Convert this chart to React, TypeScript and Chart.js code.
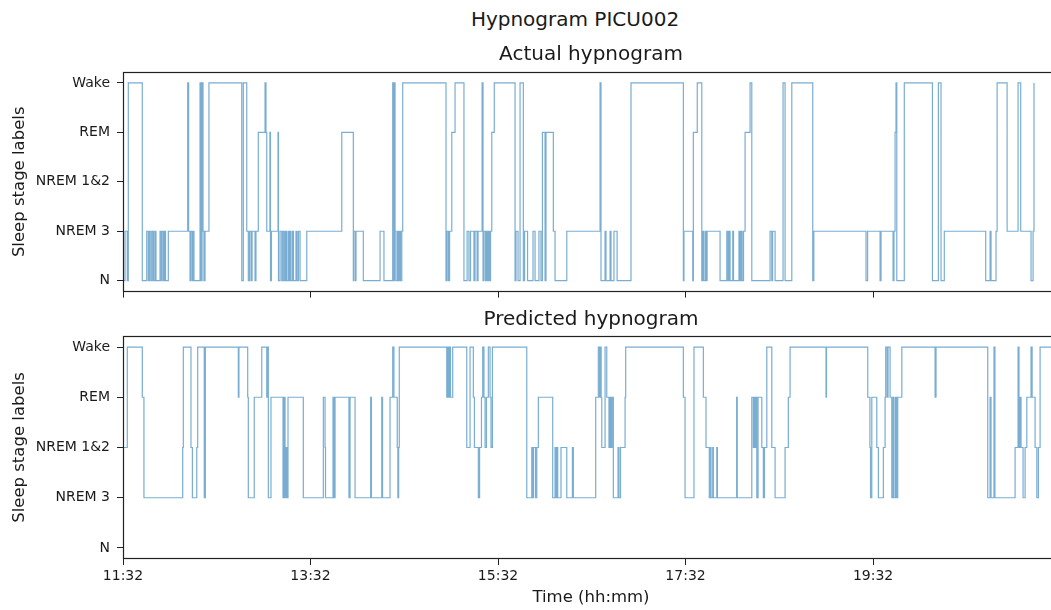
import React, { useEffect, useRef } from "react";
import { Chart, registerables } from "chart.js";

Chart.register(...registerables);

const SUPTITLE = "Hypnogram PICU002";
const PANEL_TITLES = ["Actual hypnogram", "Predicted hypnogram"];
const Y_TITLE = "Sleep stage labels";
const X_TITLE = "Time (hh:mm)";
const STAGE_LABELS = ["N", "NREM 3", "NREM 1&2", "REM", "Wake"];
const TICK_MINUTES = [0, 120, 240, 360, 480];
const TICK_LABELS = ["11:32", "13:32", "15:32", "17:32", "19:32"];
const END_MINUTE = 599;

// change points: minutes after 11:32 and the stage index that starts there
const actualTimes = [0, 1.3, 2.75, 3.4, 12.35, 15.2, 16.2, 17, 17.9, 18.75, 19.6, 20.5, 21.1, 23.7, 24.5, 25, 25.9, 26.6, 27.2, 29, 41.4, 42, 42.9, 43.5, 44.4, 44.8, 45.4, 49.3, 49.9, 50.6, 51.2, 51.8, 52.5, 55, 76, 77, 79.2, 80.2, 81, 82, 82.6, 84.5, 85.1, 86.6, 90.9, 91.5, 92, 94, 94.4, 95, 99.2, 99.5, 100.5, 101.6, 102.4, 103.2, 104, 104.6, 105.6, 106.2, 106.9, 107.5, 108.5, 109.1, 110.7, 111.4, 112.3, 113.3, 117.6, 140, 147.4, 147.8, 148.8, 149.1, 153.8, 164.5, 167, 172.6, 173.1, 173.8, 174.1, 174.7, 175.7, 176.3, 177, 177.6, 178.4, 179, 206.7, 207.4, 208.3, 209, 210.4, 212.5, 218.2, 220.2, 221.4, 222.4, 224.6, 225.3, 226.6, 227.2, 229.8, 230.4, 231, 232, 232.6, 233.3, 233.9, 234.6, 235.2, 236, 237.6, 250.9, 251.5, 252.8, 254.1, 256.2, 257, 258.9, 262.4, 263.7, 266.2, 267.5, 268.4, 270.1, 270.7, 275.4, 276.5, 284, 305.3, 305.9, 308.5, 309.1, 311.7, 312.3, 314.2, 316.2, 325.1, 358.6, 359, 364.6, 365, 367.5, 370.4, 370.9, 371.5, 372.5, 373.1, 373.8, 382.1, 386.4, 387.2, 387.8, 388.5, 390.2, 390.7, 394.2, 394.9, 395.5, 396.2, 397.1, 398.1, 401.3, 402.4, 414.1, 415.2, 415.7, 417.3, 422.4, 423.7, 428, 441.4, 442.1, 475.5, 476.5, 484.5, 485.1, 492.8, 493.4, 494.1, 494.7, 495.2, 500, 518, 521.8, 523.5, 525.6, 552.1, 554.9, 555.5, 558.7, 559.4, 565.8, 572.8, 574.5, 581.1, 582.4, 583, 584.3, 584.8];
const actualStages = [0, 1, 0, 4, 0, 1, 0, 1, 0, 1, 0, 1, 0, 1, 0, 1, 0, 1, 0, 1, 4, 1, 0, 1, 0, 1, 0, 4, 0, 4, 1, 0, 1, 4, 0, 4, 1, 0, 1, 0, 1, 0, 1, 3, 4, 3, 1, 3, 0, 1, 3, 0, 1, 0, 1, 0, 1, 0, 1, 0, 1, 0, 1, 0, 1, 0, 1, 0, 1, 3, 0, 1, 0, 1, 0, 1, 0, 4, 0, 4, 1, 0, 1, 0, 1, 0, 1, 4, 0, 1, 0, 1, 3, 4, 0, 1, 0, 1, 0, 1, 0, 1, 4, 0, 1, 0, 1, 0, 1, 0, 1, 3, 4, 0, 1, 0, 4, 0, 1, 0, 1, 0, 1, 0, 3, 0, 3, 1, 0, 1, 4, 0, 1, 0, 1, 0, 1, 0, 4, 0, 1, 0, 3, 4, 0, 1, 0, 1, 0, 1, 0, 1, 0, 1, 0, 1, 0, 1, 0, 1, 0, 1, 3, 4, 0, 1, 0, 1, 0, 4, 0, 4, 0, 1, 0, 1, 0, 1, 0, 1, 3, 4, 0, 4, 0, 4, 0, 1, 0, 1, 0, 1, 4, 1, 4, 1, 0, 1, 4];

const predictedTimes = [0, 2.75, 12.35, 13.4, 38.2, 38.6, 43.5, 44.4, 47.2, 47.8, 52, 52.7, 73.8, 74.2, 79.8, 80.2, 84, 88.8, 92, 92.4, 93, 94.7, 102.4, 103, 103.7, 104.3, 104.9, 105.6, 115.4, 128.2, 129.3, 129.6, 134.4, 135, 135.7, 144.6, 145.3, 148.5, 158.5, 159, 165.6, 166.1, 170.9, 172.6, 173.4, 175.5, 175.9, 176.4, 176.8, 207.2, 207.7, 208.3, 209, 209.6, 211, 220, 222.1, 224.2, 224.9, 227.4, 228.2, 229.4, 230.2, 231, 231.7, 232.6, 233.8, 234.9, 235.5, 236.4, 258.4, 261.6, 262.1, 262.7, 264, 264.8, 265.8, 275, 276.5, 277.1, 277.8, 278.2, 280.3, 284, 287.6, 288.2, 302.5, 304.2, 305, 305.6, 306, 306.4, 308.5, 309.6, 311, 311.7, 312.3, 313, 313.8, 316.8, 317.4, 318.4, 321.3, 321.7, 358.6, 359.7, 365.4, 371.4, 373.1, 375.2, 376, 376.3, 377.4, 377.8, 380, 380.4, 392.7, 393.1, 402.4, 403.4, 403.9, 404.5, 405.2, 405.6, 406.4, 408.8, 409.8, 410.5, 412, 415.2, 417.3, 423.7, 425.8, 426.9, 449.9, 450.2, 476.6, 478, 478.4, 479.2, 482.4, 483.4, 486.6, 487.7, 488.1, 489, 489.6, 490.9, 492, 492.8, 493.4, 494.4, 495, 495.8, 498.4, 519.7, 520.3, 553.4, 554.9, 555.5, 557.4, 558, 570.9, 572.8, 573.4, 574.1, 574.7, 576, 577.3, 578.4, 581.1, 581.8, 583.7, 584.8, 585.8, 586.9];
const predictedStages = [2, 4, 3, 1, 2, 4, 2, 1, 2, 4, 1, 4, 3, 4, 3, 1, 3, 4, 3, 4, 1, 3, 1, 3, 1, 2, 1, 3, 1, 3, 2, 1, 3, 1, 3, 1, 3, 1, 3, 1, 3, 1, 3, 4, 3, 2, 1, 2, 4, 3, 4, 3, 4, 3, 4, 2, 4, 3, 2, 1, 2, 3, 4, 3, 2, 3, 4, 3, 2, 4, 1, 2, 1, 2, 1, 2, 3, 1, 2, 1, 2, 1, 2, 1, 2, 1, 3, 4, 3, 4, 3, 2, 4, 3, 2, 3, 2, 3, 1, 2, 1, 2, 3, 4, 3, 1, 4, 3, 2, 1, 2, 1, 2, 1, 2, 1, 3, 1, 3, 2, 3, 2, 3, 1, 3, 2, 1, 2, 4, 2, 1, 2, 3, 4, 3, 4, 3, 2, 1, 3, 2, 1, 2, 3, 4, 3, 4, 3, 1, 3, 1, 3, 1, 3, 4, 3, 4, 1, 3, 1, 4, 1, 2, 4, 2, 3, 2, 1, 2, 3, 4, 3, 2, 1, 2, 4];

const FONT = "'DejaVu Sans', sans-serif";
const LINE_COLOR = "rgba(31,119,180,0.6)";
const TEXT_COLOR = "#1a1a1a";

function toPoints(times: number[], stages: number[]) {
  const pts = times.map((t, i) => ({ x: t, y: stages[i] }));
  pts.push({ x: END_MINUTE, y: stages[stages.length - 1] });
  return pts;
}

const framePlugin = {
  id: "frame",
  afterDraw(chart: any) {
    const { ctx, chartArea } = chart;
    const l = Math.round(chartArea.left) + 0.5;
    const t = Math.round(chartArea.top) + 0.5;
    const r = Math.round(chartArea.right) - 0.5;
    const b = Math.round(chartArea.bottom) - 0.5;
    ctx.save();
    ctx.strokeStyle = "#222";
    ctx.lineWidth = 1.2;
    ctx.strokeRect(l, t, r - l, b - t);
    ctx.restore();
  },
};

function makeConfig(panel: number): any {
  const isBottom = panel === 1;
  const times = isBottom ? predictedTimes : actualTimes;
  const stages = isBottom ? predictedStages : actualStages;
  return {
    type: "line",
    data: {
      datasets: [
        {
          data: toPoints(times, stages),
          stepped: "before",
          borderColor: LINE_COLOR,
          borderWidth: 1.2,
          pointRadius: 0,
          fill: false,
        },
      ],
    },
    options: {
      animation: false,
      responsive: false,
      devicePixelRatio: 1,
      layout: { padding: { left: 0, right: 1, top: 0, bottom: 0 } },
      plugins: {
        legend: { display: false },
        tooltip: { enabled: false },
        title: {
          display: true,
          text: PANEL_TITLES[panel],
          fullSize: false,
          color: TEXT_COLOR,
          font: { family: FONT, size: 20, weight: "normal" },
          padding: { top: 1, bottom: isBottom ? 4 : 5 },
        },
      },
      scales: {
        x: {
          type: "linear",
          min: 0,
          max: END_MINUTE,
          border: { display: false },
          grid: { display: true, drawOnChartArea: false, drawTicks: true, tickLength: 6, color: "#222", lineWidth: 1 },
          afterBuildTicks: (s: any) => {
            s.ticks = TICK_MINUTES.map((v) => ({ value: v }));
          },
          afterFit: (s: any) => {
            s.height = isBottom ? 51 : 12;
          },
          ticks: {
            autoSkip: false,
            maxRotation: 0,
            padding: 3,
            color: TEXT_COLOR,
            font: { family: FONT, size: 14 },
            callback: (_v: any, i: number) => (isBottom ? TICK_LABELS[i] : ""),
          },
          title: {
            display: isBottom,
            text: X_TITLE,
            color: TEXT_COLOR,
            font: { family: FONT, size: 16.5 },
            padding: { top: 0, bottom: 2 },
          },
        },
        y: {
          type: "linear",
          min: -0.22,
          max: 4.22,
          border: { display: false },
          grid: { display: true, drawOnChartArea: false, drawTicks: true, tickLength: 6, color: "#222", lineWidth: 1 },
          afterBuildTicks: (s: any) => {
            s.ticks = STAGE_LABELS.map((_, i) => ({ value: i }));
          },
          afterFit: (s: any) => {
            s.width = 123;
          },
          ticks: {
            autoSkip: false,
            padding: 7,
            color: TEXT_COLOR,
            font: { family: FONT, size: 14 },
            callback: (v: any) => STAGE_LABELS[v],
          },
          title: {
            display: true,
            text: Y_TITLE,
            color: TEXT_COLOR,
            font: { family: FONT, size: 16.5 },
            padding: { top: 9.5, bottom: 0 },
          },
        },
      },
    },
    plugins: [framePlugin],
  };
}

function Panel({ panel, top, height }: { panel: number; top: number; height: number }) {
  const ref = useRef<HTMLCanvasElement | null>(null);
  useEffect(() => {
    if (!ref.current) return;
    const chart = new Chart(ref.current, makeConfig(panel));
    return () => chart.destroy();
  }, [panel]);
  return (
    <canvas
      ref={ref}
      width={1060}
      height={height}
      style={{ position: "absolute", left: 0, top, width: 1060, height }}
    />
  );
}

export default function App() {
  return (
    <div
      style={{
        position: "fixed",
        left: 0,
        top: 0,
        width: 1051,
        height: 610,
        overflow: "hidden",
        background: "#fff",
      }}
    >
      <div
        style={{
          position: "absolute",
          left: 0,
          top: 7,
          width: 1150,
          textAlign: "center",
          fontFamily: FONT,
          fontSize: 20,
          lineHeight: "24px",
          color: TEXT_COLOR,
          whiteSpace: "nowrap",
        }}
      >
        {SUPTITLE}
      </div>
      <Panel panel={0} top={42} height={265} />
      <Panel panel={1} top={307} height={303} />
    </div>
  );
}
